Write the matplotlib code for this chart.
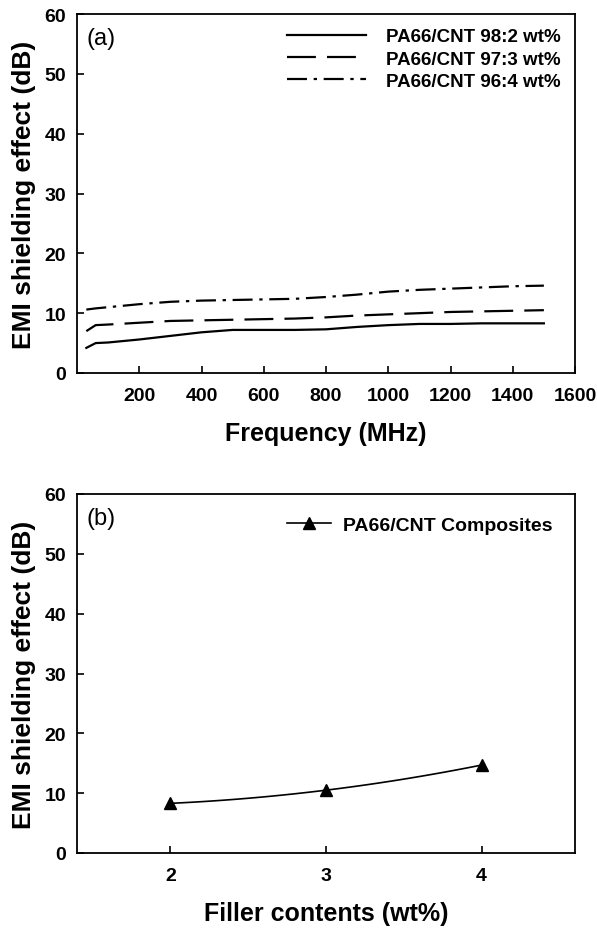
import numpy as np
import matplotlib
matplotlib.use("Agg")
import matplotlib.pyplot as plt

plt.rcParams['font.family'] = ['Liberation Sans', 'DejaVu Sans']
plt.rcParams['font.weight'] = 'bold'

# Panel (a) data
freq = [30, 60, 100, 200, 300, 400, 500, 600, 700, 800, 900, 1000, 1100, 1200, 1300, 1400, 1500]
se_2wt = [4.2, 5.0, 5.1, 5.6, 6.2, 6.8, 7.2, 7.2, 7.2, 7.3, 7.7, 8.0, 8.2, 8.2, 8.3, 8.3, 8.3]
se_3wt = [7.0, 8.0, 8.1, 8.4, 8.7, 8.8, 8.9, 9.0, 9.1, 9.3, 9.6, 9.8, 10.0, 10.2, 10.3, 10.4, 10.5]
se_4wt = [10.6, 10.8, 11.0, 11.5, 11.9, 12.1, 12.2, 12.3, 12.4, 12.7, 13.1, 13.6, 13.9, 14.1, 14.3, 14.5, 14.6]
labels_a = ['PA66/CNT 98:2 wt%', 'PA66/CNT 97:3 wt%', 'PA66/CNT 96:4 wt%']

# Panel (b) data
filler = [2, 3, 4]
se_comp = [8.3, 10.5, 14.7]
label_b = 'PA66/CNT Composites'

fig = plt.figure(figsize=(5.97, 9.29), dpi=100)
W, H = 597, 929
axA = fig.add_axes([77/W, 1-374/H, 498/W, 359/H])
axB = fig.add_axes([77/W, 1-854/H, 498/W, 359/H])

styles = ['-', (0, (13, 5)), (0, (9, 3, 1.5, 3))]
for y, ls, lab in zip([se_2wt, se_3wt, se_4wt], styles, labels_a):
    axA.plot(freq, y, color='black', lw=1.6, linestyle=ls, label=lab)
axA.set_xlim(0, 1600)
axA.set_ylim(0, 60)
axA.set_xticks(range(200, 1601, 200))
axA.set_yticks(range(0, 61, 10))
axA.set_xlabel('Frequency (MHz)', fontsize=18, fontweight='bold', labelpad=12)
axA.set_ylabel('EMI shielding effect (dB)', fontsize=19, fontweight='bold', labelpad=6)
axA.text(0.02, 0.965, '(a)', transform=axA.transAxes, fontsize=17, fontweight='normal', va='top')
leg = axA.legend(loc='upper right', frameon=False, fontsize=13.5, handlelength=4.2, handletextpad=1.1,
                 borderaxespad=0.35, labelspacing=0.28)
for t in leg.get_texts():
    t.set_fontweight('bold')

# smooth connecting curve through the three points (quadratic)
coef = np.polyfit(filler, se_comp, 2)
xs = np.linspace(filler[0], filler[-1], 100)
axB.plot(xs, np.polyval(coef, xs), color='black', lw=1.2)
axB.plot(filler, se_comp, linestyle='none', marker='^', color='black', markersize=9)
axB.plot([], [], color='black', lw=1.2, marker='^', markersize=9, label=label_b)
axB.set_xlim(1.4, 4.6)
axB.set_ylim(0, 60)
axB.set_xticks(filler)
axB.set_yticks(range(0, 61, 10))
axB.set_xlabel('Filler contents (wt%)', fontsize=18, fontweight='bold', labelpad=12)
axB.set_ylabel('EMI shielding effect (dB)', fontsize=19, fontweight='bold', labelpad=6)
axB.text(0.02, 0.965, '(b)', transform=axB.transAxes, fontsize=17, fontweight='normal', va='top')
legb = axB.legend(loc='upper right', frameon=False, fontsize=14, handlelength=2.3, handletextpad=0.6,
                  borderaxespad=0.75)
for t in legb.get_texts():
    t.set_fontweight('bold')

for ax in (axA, axB):
    ax.tick_params(direction='in', length=5, width=1.2, labelsize=14)
    ax.tick_params(axis='x', pad=10)
    ax.tick_params(axis='y', pad=8)
    for lab in ax.get_xticklabels() + ax.get_yticklabels():
        lab.set_fontweight('bold')
    for s in ax.spines.values():
        s.set_linewidth(1.3)

fig.savefig('out.png', dpi=100)
